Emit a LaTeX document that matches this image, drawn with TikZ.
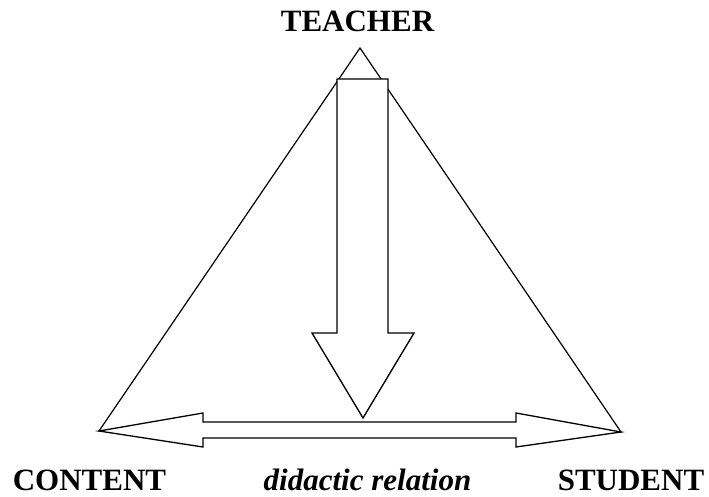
\documentclass[tikz,border=0pt]{standalone}
\usepackage{fontspec}
\setmainfont{Liberation Serif}
\begin{document}
\begin{tikzpicture}[x=1pt,y=-1pt,
  shape line/.style={draw=black,line width=1.3pt,line join=miter,fill=white},
  label text/.style={font=\fontsize{31}{36}\selectfont\bfseries,anchor=base,inner sep=0pt}]
\useasboundingbox (0,0) rectangle (709,497);
\coordinate (apex) at (360,48);
\coordinate (lv) at (99,431);
\coordinate (rv) at (621,432);
% triangle
\draw[line width=1.2pt] (apex) -- (lv) -- (rv) -- cycle;
% vertical arrow
\draw[shape line] (337,79) -- (388,79) -- (388,333) -- (414,333) -- (363,418) -- (312,333) -- (337,333) -- cycle;
% double horizontal arrow
\draw[shape line] (lv) -- (203,413) -- (203,422) -- (516,422) -- (516,413) -- (rv) -- (516,447) -- (516,438) -- (203,438) -- (203,447) -- cycle;
% labels
\node[label text] (teacher) at (357.5,32) {TEACHER};
\node[label text] (content) at (89.5,490) {CONTENT};
\node[label text,font=\fontsize{31}{36}\selectfont\bfseries\itshape] (rel) at (367.5,490) {didactic relation};
\node[label text] (student) at (631,490) {STUDENT};
\end{tikzpicture}
\end{document}
